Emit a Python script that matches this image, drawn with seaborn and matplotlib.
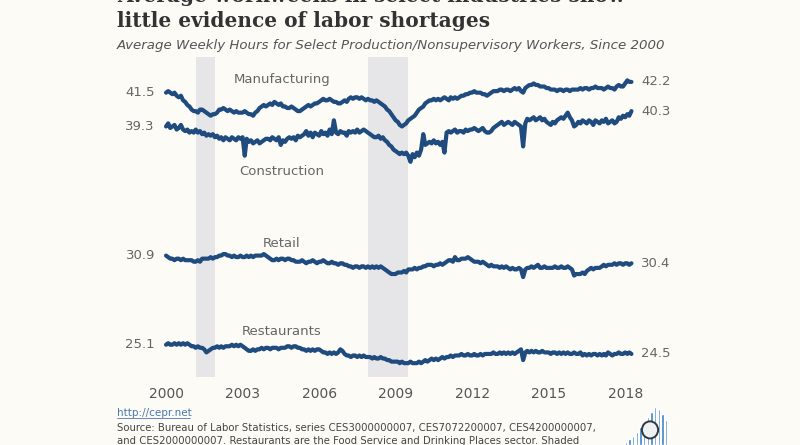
import matplotlib.pyplot as plt
import pandas as pd
import seaborn as sns
from matplotlib.lines import Line2D
from matplotlib.patches import Ellipse

# Average weekly hours, production/nonsupervisory workers, monthly Jan 2000 - Apr 2018
# (one row per year)
manufacturing_hours = [
    41.5, 41.6, 41.5, 41.4, 41.5, 41.3, 41.2, 41.3, 41.0, 40.9, 40.7, 40.6,
    40.4, 40.3, 40.3, 40.2, 40.4, 40.4, 40.3, 40.2, 40.1, 40.0, 40.1, 40.1,
    40.2, 40.4, 40.4, 40.5, 40.4, 40.3, 40.4, 40.3, 40.2, 40.3, 40.2, 40.2,
    40.2, 40.3, 40.2, 40.1, 40.1, 40.0, 40.2, 40.3, 40.5, 40.6, 40.7, 40.6,
    40.7, 40.8, 40.7, 40.9, 40.8, 40.7, 40.8, 40.6, 40.6, 40.5, 40.5, 40.6,
    40.5, 40.4, 40.3, 40.3, 40.4, 40.5, 40.6, 40.7, 40.6, 40.7, 40.8, 40.8,
    40.9, 41.0, 41.1, 41.0, 41.0, 41.1, 41.0, 40.9, 40.9, 40.8, 40.8, 40.9,
    41.0, 40.9, 41.1, 41.2, 41.1, 41.2, 41.2, 41.1, 41.2, 41.1, 41.0, 41.1,
    41.0, 41.0, 40.9, 41.0, 40.9, 40.8, 40.7, 40.6, 40.4, 40.3, 40.1, 39.9,
    39.7, 39.6, 39.4, 39.3, 39.4, 39.5, 39.7, 39.8, 39.9, 40.0, 40.2, 40.4,
    40.5, 40.6, 40.8, 40.9, 41.0, 41.0, 41.1, 41.0, 41.1, 41.0, 41.1, 41.2,
    41.1, 41.0, 41.2, 41.1, 41.2, 41.1, 41.2, 41.3, 41.3, 41.4, 41.4, 41.5,
    41.5, 41.6, 41.5, 41.5, 41.5, 41.4, 41.4, 41.3, 41.4, 41.5, 41.6, 41.6,
    41.6, 41.7, 41.7, 41.6, 41.7, 41.7, 41.6, 41.7, 41.8, 41.7, 41.8, 41.6,
    41.5, 41.8, 41.9, 42.0, 42.0, 42.1, 42.0, 42.0, 41.9, 41.9, 41.9, 41.8,
    41.8, 41.7, 41.7, 41.7, 41.6, 41.7, 41.7, 41.6, 41.7, 41.7, 41.6, 41.7,
    41.7, 41.7, 41.7, 41.8, 41.7, 41.8, 41.8, 41.7, 41.8, 41.8, 41.9, 41.8,
    41.8, 41.8, 41.7, 41.8, 41.9, 41.8, 41.8, 41.7, 41.9, 42.0, 41.9, 41.9,
    42.1, 42.3, 42.2, 42.2,
]
construction_hours = [
    39.3, 39.5, 39.2, 39.3, 39.4, 39.1, 39.2, 39.4, 39.1, 39.0, 39.1, 38.9,
    39.0, 38.9, 39.1, 38.9, 39.0, 38.8, 38.9, 38.7, 38.8, 38.7, 38.8, 38.6,
    38.7, 38.5, 38.6, 38.4, 38.6, 38.5, 38.4, 38.6, 38.5, 38.4, 38.6, 38.5,
    38.6, 37.4, 38.5, 38.3, 38.4, 38.2, 38.3, 38.4, 38.2, 38.3, 38.4, 38.5,
    38.5, 38.4, 38.6, 38.5, 38.4, 38.6, 38.1, 38.4, 38.3, 38.5, 38.6, 38.5,
    38.6, 38.4, 38.7, 38.6, 38.7, 38.8, 39.0, 38.7, 38.9, 38.6, 38.9, 38.8,
    38.7, 39.0, 38.8, 38.9, 38.7, 39.1, 38.8, 39.7, 38.9, 38.8, 39.0, 38.9,
    38.9, 38.7, 39.0, 38.9, 39.0, 38.9, 39.1, 38.9, 39.0, 39.1, 39.0, 38.9,
    38.8, 38.7, 38.6, 38.6, 38.7, 38.5, 38.6, 38.4, 38.3, 38.1, 38.0, 37.8,
    37.7, 37.6, 37.5, 37.6, 37.5, 37.6, 37.4, 37.0, 37.5, 37.3, 37.6, 37.4,
    37.8, 38.8, 38.1, 38.2, 38.3, 38.2, 38.4, 38.2, 38.3, 38.1, 38.3, 37.6,
    38.9, 39.0, 38.9, 39.0, 39.1, 38.9, 39.0, 39.0, 38.9, 39.1, 39.0, 39.1,
    39.1, 39.2, 39.1, 39.0, 39.1, 39.2, 39.0, 38.9, 38.9, 39.0, 39.2, 39.3,
    39.4, 39.5, 39.6, 39.4, 39.5, 39.6, 39.5, 39.4, 39.6, 39.5, 39.4, 39.3,
    38.0, 39.5, 39.8, 39.7, 39.8, 39.9, 39.7, 39.8, 39.9, 39.7, 39.8, 39.6,
    39.5, 39.4, 39.6, 39.5, 39.7, 39.8, 39.9, 39.8, 40.0, 40.2, 39.9, 39.7,
    39.3, 39.4, 39.6, 39.5, 39.7, 39.6, 39.5, 39.7, 39.6, 39.4, 39.7, 39.6,
    39.5, 39.7, 39.6, 39.8, 39.5, 39.6, 39.7, 39.5, 39.6, 39.9, 39.8, 40.0,
    39.9, 40.1, 40.0, 40.3,
]
retail_hours = [
    30.9, 30.8, 30.7, 30.7, 30.6, 30.7, 30.7, 30.6, 30.7, 30.6, 30.6, 30.6,
    30.6, 30.5, 30.5, 30.6, 30.5, 30.7, 30.7, 30.7, 30.7, 30.8, 30.7, 30.8,
    30.8, 30.9, 30.9, 31.0, 31.0, 30.9, 30.9, 30.8, 30.9, 30.8, 30.8, 30.9,
    30.8, 30.8, 30.9, 30.8, 30.9, 30.8, 30.9, 30.9, 30.9, 30.9, 31.0, 30.9,
    30.8, 30.7, 30.6, 30.6, 30.7, 30.6, 30.7, 30.7, 30.6, 30.7, 30.7, 30.6,
    30.6, 30.5, 30.5, 30.5, 30.6, 30.5, 30.4, 30.5, 30.5, 30.6, 30.5, 30.4,
    30.5, 30.5, 30.6, 30.5, 30.4, 30.4, 30.5, 30.4, 30.4, 30.3, 30.4, 30.4,
    30.3, 30.3, 30.2, 30.2, 30.1, 30.2, 30.2, 30.1, 30.2, 30.2, 30.1, 30.2,
    30.1, 30.2, 30.1, 30.2, 30.1, 30.2, 30.1, 30.0, 29.9, 29.8, 29.7, 29.7,
    29.7, 29.8, 29.8, 29.8, 29.9, 29.8, 30.0, 30.0, 30.0, 30.1, 30.0, 30.1,
    30.1, 30.2, 30.2, 30.3, 30.3, 30.3, 30.2, 30.3, 30.3, 30.4, 30.3, 30.4,
    30.5, 30.6, 30.6, 30.5, 30.8, 30.6, 30.6, 30.7, 30.7, 30.7, 30.8, 30.7,
    30.6, 30.5, 30.5, 30.5, 30.4, 30.5, 30.4, 30.3, 30.2, 30.3, 30.2, 30.2,
    30.2, 30.1, 30.2, 30.1, 30.2, 30.1, 30.0, 30.1, 30.0, 30.0, 30.1, 30.0,
    29.5, 30.0, 30.1, 30.1, 30.2, 30.1, 30.2, 30.3, 30.1, 30.1, 30.2, 30.1,
    30.1, 30.1, 30.1, 30.2, 30.1, 30.1, 30.2, 30.1, 30.1, 30.2, 30.1, 30.0,
    29.6, 29.7, 29.7, 29.7, 29.8, 29.7, 29.9, 30.0, 30.1, 30.0, 30.1, 30.1,
    30.1, 30.2, 30.3, 30.2, 30.3, 30.3, 30.3, 30.4, 30.3, 30.4, 30.4, 30.3,
    30.4, 30.4, 30.3, 30.4,
]
restaurant_hours = [
    25.1, 25.2, 25.1, 25.1, 25.2, 25.1, 25.2, 25.1, 25.2, 25.1, 25.2, 25.1,
    25.0, 25.0, 24.9, 25.0, 24.9, 24.9, 24.8, 24.6, 24.7, 24.8, 24.9, 24.9,
    25.0, 24.9, 25.0, 24.9, 25.0, 25.0, 25.0, 25.1, 25.0, 25.1, 25.0, 25.1,
    25.0, 24.9, 24.8, 24.7, 24.7, 24.8, 24.7, 24.8, 24.8, 24.9, 24.8, 24.9,
    24.9, 24.8, 24.9, 24.9, 24.9, 24.8, 24.9, 24.9, 24.9, 25.0, 25.0, 24.9,
    25.0, 25.0, 24.9, 24.9, 24.8, 24.8, 24.7, 24.8, 24.7, 24.8, 24.7, 24.8,
    24.8, 24.7, 24.6, 24.6, 24.5, 24.6, 24.5, 24.6, 24.5, 24.6, 24.8, 24.7,
    24.5, 24.4, 24.4, 24.3, 24.4, 24.4, 24.3, 24.4, 24.3, 24.4, 24.3, 24.3,
    24.3, 24.2, 24.3, 24.2, 24.2, 24.3, 24.2, 24.2, 24.1, 24.1, 24.0, 24.0,
    24.0, 24.0, 23.9, 24.0, 23.9, 23.9, 23.9, 24.0, 23.9, 23.9, 23.9, 24.0,
    23.9, 24.0, 24.1, 24.0, 24.1, 24.2, 24.1, 24.2, 24.1, 24.2, 24.3, 24.2,
    24.3, 24.3, 24.4, 24.3, 24.4, 24.4, 24.4, 24.5, 24.4, 24.4, 24.5, 24.4,
    24.4, 24.5, 24.4, 24.4, 24.5, 24.4, 24.5, 24.5, 24.5, 24.5, 24.6, 24.5,
    24.5, 24.6, 24.5, 24.6, 24.5, 24.6, 24.5, 24.6, 24.5, 24.6, 24.7, 24.8,
    24.1, 24.6, 24.7, 24.6, 24.7, 24.6, 24.7, 24.6, 24.6, 24.7, 24.6, 24.6,
    24.6, 24.5, 24.6, 24.6, 24.5, 24.6, 24.5, 24.6, 24.5, 24.6, 24.5, 24.5,
    24.6, 24.5, 24.5, 24.6, 24.4, 24.5, 24.4, 24.5, 24.4, 24.5, 24.5, 24.4,
    24.5, 24.4, 24.5, 24.4, 24.6, 24.5, 24.4, 24.5, 24.5, 24.6, 24.5, 24.5,
    24.6, 24.5, 24.6, 24.5,
]
industries = ["Manufacturing", "Construction", "Retail", "Restaurants"]
# NBER recessions, shaded
recessions = [("2001-03-01", "2001-11-30"), ("2007-12-01", "2009-06-30")]
tick_years = [2000, 2003, 2006, 2009, 2012, 2015, 2018]
# CEPR logo bars (relative heights)
logo_bar_heights = [3, 6, 9, 13, 18, 23, 28, 33, 38, 36, 31, 25]

bg_color = "#fcfbf6"
line_color = "#1f4b7f"
label_color = "#666666"

dates = pd.date_range("2000-01-01", periods=len(manufacturing_hours), freq="MS")
hours = pd.DataFrame(
    {
        "date": dates,
        "Manufacturing": manufacturing_hours,
        "Construction": construction_hours,
        "Retail": retail_hours,
        "Restaurants": restaurant_hours,
    }
)
hours_long = hours.melt(id_vars="date", var_name="industry", value_name="hours")

sns.set_style("white")
plt.rcParams["font.family"] = ["DejaVu Sans"]

fig = plt.figure(figsize=(8, 4.45), dpi=100, facecolor=bg_color)
ax = fig.add_axes([0.175, 0.1528, 0.65, 0.7191], facecolor=bg_color)

for start, end in recessions:
    ax.axvspan(pd.Timestamp(start), pd.Timestamp(end), color="#e6e6e9", lw=0, zorder=0)

sns.lineplot(
    data=hours_long,
    x="date",
    y="hours",
    hue="industry",
    palette={name: line_color for name in industries},
    estimator=None,
    linewidth=3.0,
    legend=False,
    ax=ax,
    zorder=3,
)

ax.set_xlim(pd.Timestamp("1998-12-24"), pd.Timestamp("2019-05-15"))
ax.set_ylim(23.0, 43.82)
ax.set_xticks([pd.Timestamp(f"{y}-01-01") for y in tick_years])
ax.set_xticklabels([str(y) for y in tick_years])
ax.set_yticks([])
ax.tick_params(axis="x", length=0, pad=7, labelsize=10, labelcolor="#555555")
ax.set_xlabel("")
ax.set_ylabel("")
sns.despine(ax=ax, left=True, bottom=True)

# start / end values and series names
name_date = pd.Timestamp("2004-07-15")
name_offsets = {"Manufacturing": 0.85, "Construction": -2.95, "Retail": 0.8, "Restaurants": 0.88}
for name in industries:
    values = hours[name]
    ax.annotate(
        f"{values.iloc[0]:.1f}", xy=(dates[0], values.iloc[0]), xytext=(-8, 0),
        textcoords="offset points", ha="right", va="center", fontsize=9.5,
        color=label_color,
    )
    ax.annotate(
        f"{values.iloc[-1]:.1f}", xy=(dates[-1], values.iloc[-1]), xytext=(7, 0),
        textcoords="offset points", ha="left", va="center", fontsize=9.5,
        color=label_color,
    )
    ax.text(
        name_date, values.iloc[0] + name_offsets[name], name, ha="center",
        va="center", fontsize=9.5, color=label_color,
    )

# titles (first line runs off the top of the image, as in the original crop)
fig.text(0.146, 1 - 2.5 / 445, "Average workweeks in select industries show",
         fontsize=14.5, fontweight="bold", family="DejaVu Serif", color="#333333",
         va="baseline")
fig.text(0.146, 1 - 27 / 445, "little evidence of labor shortages",
         fontsize=14.5, fontweight="bold", family="DejaVu Serif", color="#333333",
         va="baseline")
fig.text(0.146, 1 - 49 / 445,
         "Average Weekly Hours for Select Production/Nonsupervisory Workers, Since 2000",
         fontsize=9.65, style="italic", family="DejaVu Sans", color="#555555",
         va="baseline")

# footer
fig.text(0.146, 1 - 416 / 445, "http://cepr.net", fontsize=7.5, color="#4a78b0",
         va="baseline")
fig.add_artist(Line2D([0.146, 0.238], [1 - 418 / 445] * 2, color="#4a78b0", lw=0.6))
fig.text(0.146, 1 - 431 / 445,
         "Source: Bureau of Labor Statistics, series CES3000000007, CES7072200007, "
         "CES4200000007,", fontsize=7.3, color="#444444", va="baseline")
fig.text(0.146, 1 - 444 / 445,
         "and CES2000000007. Restaurants are the Food Service and Drinking Places "
         "sector. Shaded", fontsize=7.3, color="#444444", va="baseline")

# logo
logo_ax = fig.add_axes([0.78, 0.0, 0.055, 0.095], facecolor="none")
logo_ax.bar(range(len(logo_bar_heights)), logo_bar_heights, width=0.7, color="#3a82c4")
logo_ax.add_patch(Ellipse((6.6, 15), 4.4, 17, facecolor="#eef1f2", edgecolor="#2f3a40",
                          lw=1.4, zorder=3))
logo_ax.set_xlim(-0.5, len(logo_bar_heights) - 0.5)
logo_ax.set_ylim(0, 42)
logo_ax.axis("off")

fig.savefig("out.png", dpi=100, facecolor=bg_color)
